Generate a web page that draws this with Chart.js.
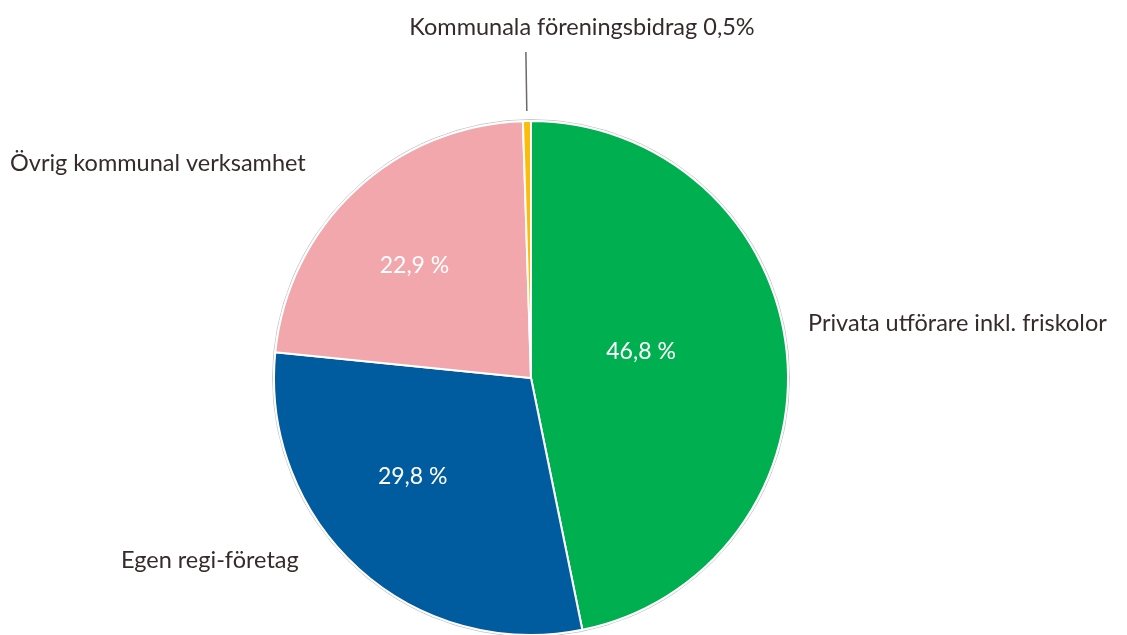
<!DOCTYPE html>
<html>
<head>
<meta charset="utf-8">
<script src="https://cdn.jsdelivr.net/npm/chart.js@4/dist/chart.umd.min.js"></script>
<style>
  html, body { margin: 0; padding: 0; background: #fff; }
  #wrap { width: 1127px; height: 635px; position: relative; }
</style>
</head>
<body>
<div id="wrap"><canvas id="chart"></canvas></div>
<script>
// Andel per utförare, medurs från klockan 12
const categories = ['Privata utförare inkl. friskolor', 'Egen regi-företag', 'Övrig kommunal verksamhet', 'Kommunala föreningsbidrag'];
const shares = [46.8, 29.8, 22.9, 0.5];
const valueLabels = ['46,8 %', '29,8 %', '22,9 %', ''];
const outsideLabels = ['Privata utförare inkl. friskolor', 'Egen regi-företag', 'Övrig kommunal verksamhet', 'Kommunala föreningsbidrag 0,5%'];
const colors = ['#00af50', '#005b9f', '#f2a7ac', '#fbbc0a'];

const FONT = 'Lato, "Open Sans", sans-serif';
const TEXT = '#362b2b';

// placering av etiketter (andel av radien, vinkeljustering i grader)
const innerPlace = [
  { r: 0.44, da: -7.5 },
  { r: 0.60, da: 8 },
  { r: 0.63, da: -3 },
  null
];
const outerPlace = [
  { x: 808, y: 323, align: 'left' },
  { x: 121, y: 560, align: 'left' },
  { x: 10, y: 163, align: 'left' },
  { x: 582, y: 27, align: 'center', leader: [10, 69] }
];

const pieLabels = {
  id: 'pieLabels',
  beforeDatasetsDraw(chart) {
    const arc = chart.getDatasetMeta(0).data[0];
    const ctx = chart.ctx;
    ctx.save();
    ctx.strokeStyle = '#c8c8c8';
    ctx.lineWidth = 1;
    ctx.beginPath();
    ctx.arc(arc.x, arc.y, arc.outerRadius + 1.5, 0, Math.PI * 2);
    ctx.stroke();
    ctx.restore();
  },
  afterDatasetsDraw(chart) {
    const ctx = chart.ctx;
    const meta = chart.getDatasetMeta(0);
    ctx.save();
    ctx.textBaseline = 'middle';
    meta.data.forEach((arc, i) => {
      const mid = (arc.startAngle + arc.endAngle) / 2;
      const p = innerPlace[i];
      if (p && valueLabels[i]) {
        const a = mid + p.da * Math.PI / 180;
        const r = arc.outerRadius * p.r;
        ctx.fillStyle = '#ffffff';
        ctx.font = '23px ' + FONT;
        ctx.textAlign = 'center';
        ctx.fillText(valueLabels[i], arc.x + Math.cos(a) * r, arc.y + Math.sin(a) * r);
      }
      const o = outerPlace[i];
      ctx.fillStyle = TEXT;
      ctx.font = '23.5px ' + FONT;
      ctx.textAlign = o.align;
      ctx.fillText(outsideLabels[i], o.x, o.y);
      if (o.leader) {
        const r0 = arc.outerRadius + o.leader[0];
        const r1 = arc.outerRadius + o.leader[1];
        ctx.strokeStyle = '#716868';
        ctx.lineWidth = 1.5;
        ctx.beginPath();
        ctx.moveTo(arc.x + Math.cos(mid) * r0, arc.y + Math.sin(mid) * r0);
        ctx.lineTo(arc.x + Math.cos(mid) * r1, arc.y + Math.sin(mid) * r1);
        ctx.stroke();
      }
    });
    ctx.restore();
  }
};

new Chart(document.getElementById('chart'), {
  type: 'pie',
  data: {
    labels: categories,
    datasets: [{
      data: shares,
      backgroundColor: colors,
      borderColor: '#ffffff',
      borderWidth: 2,
      hoverOffset: 0,
      radius: 257,
      clip: false
    }]
  },
  options: {
    responsive: true,
    maintainAspectRatio: false,
    animation: false,
    layout: { padding: { top: 121, right: 65, bottom: 0, left: 0 } },
    plugins: {
      legend: { display: false },
      tooltip: { enabled: false }
    }
  },
  plugins: [pieLabels]
});
</script>
</body>
</html>
